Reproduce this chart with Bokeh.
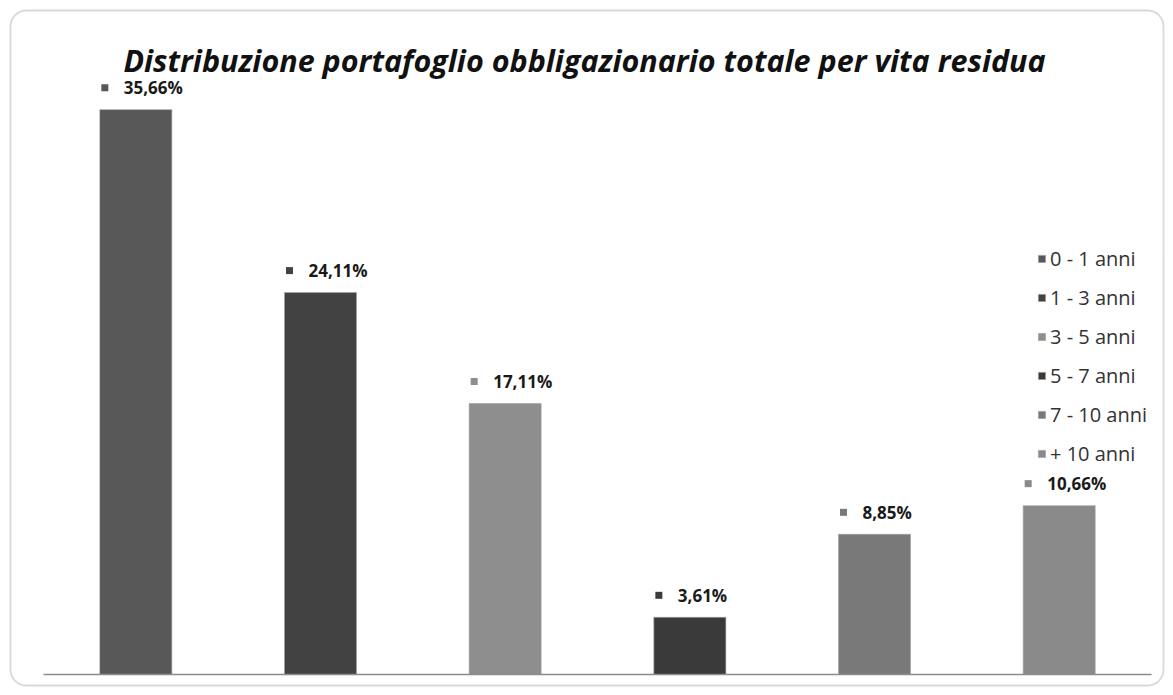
from bokeh.plotting import figure
from bokeh.models import Range1d, BoxAnnotation, Label, Legend, LegendItem, ColumnDataSource
from bokeh.core.properties import value
from bokeh.embed import file_html
from bokeh.resources import INLINE

# ---- data ----
categories = ["0 - 1 anni", "1 - 3 anni", "3 - 5 anni", "5 - 7 anni", "7 - 10 anni", "+ 10 anni"]
values = [35.66, 24.11, 17.11, 3.61, 8.85, 10.66]
labels = ["35,66%", "24,11%", "17,11%", "3,61%", "8,85%", "10,66%"]
colors = ["#585858", "#424242", "#8e8e8e", "#3a3a3a", "#797979", "#8a8a8a"]
title_text = "Distribuzione portafoglio obbligazionario totale per vita residua"

# ---- layout (pixels) ----
W, H = 1165, 687          # canvas size
PX_X = 184.67             # px per category
PX_Y = 15.84              # px per percent
LEFT_PX = 43              # canvas px of x = 0
BASE_PX = 13              # canvas px from bottom of y = 0

def cx(px):   # canvas px (from left) -> data x
    return (px - LEFT_PX) / PX_X

def cy(px):   # canvas px (from top) -> data y
    return (H - BASE_PX - px) / PX_Y

p = figure(width=W, height=H, output_backend="svg", toolbar_location=None,
           x_range=Range1d(cx(0), cx(W)), y_range=Range1d(cy(H), cy(0)),
           min_border=0, min_border_left=0, min_border_right=0,
           min_border_top=0, min_border_bottom=0)
p.axis.visible = False
p.grid.visible = False
p.outline_line_color = None
p.background_fill_color = "white"
p.border_fill_color = "white"

xs = [i + 0.5 for i in range(len(categories))]
src = ColumnDataSource(dict(x=xs, top=values, cat=categories, color=colors,
                            lab=labels))

bars = p.vbar(x="x", top="top", bottom=0, width=0.39, source=src,
              fill_color="color", line_color="#a0a0a0", line_width=0.6)

# baseline (category axis line)
p.segment(x0=[0], y0=[0], x1=[len(categories)], y1=[0],
          line_color="#8c8c8c", line_width=1.5)

# value labels with little colored squares
sq_x = [x - 31 / PX_X for x in xs]
sq_y = [v + 22 / PX_Y for v in values]
p.scatter(x=sq_x, y=sq_y, marker="square", size=7, fill_color=colors,
          line_color=None)
p.text(x=[x - 12 / PX_X for x in xs], y=sq_y, text=labels,
       text_font=value("Open Sans"), text_font_style="bold",
       text_font_size="17px", text_color="#1a1a1a",
       text_baseline="middle", text_align="left")

# title
p.add_layout(Label(x=cx(584), y=cy(59), text=title_text,
                   text_font="Open Sans", text_font_style="bold italic",
                   text_font_size="30.5px", text_color="#111111",
                   text_align="center", text_baseline="middle"))

# rounded outer border
p.add_layout(BoxAnnotation(left=cx(10), right=cx(1163), top=cy(10), bottom=cy(685),
                           fill_alpha=0, line_color="#808080", line_width=1.8,
                           border_radius=16))

# legend
items = [LegendItem(label=c, renderers=[bars], index=i) for i, c in enumerate(categories)]
legend = Legend(items=items, location=(1037, 220), orientation="vertical",
                label_text_font="Open Sans", label_text_font_size="20px",
                label_text_color="#333333", glyph_width=9, glyph_height=9,
                label_height=26, spacing=12, label_standoff=4, padding=0,
                margin=0, border_line_color=None, background_fill_alpha=0)
p.add_layout(legend)

open("out.html", "w").write(file_html(p, INLINE))
